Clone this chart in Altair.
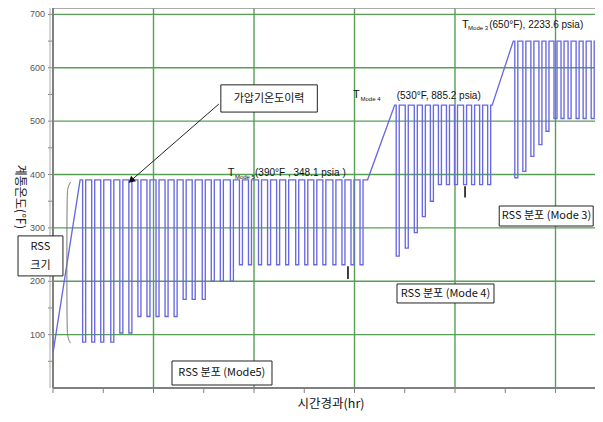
import altair as alt
import pandas as pd

# ---------------- data ----------------
# pulse centres (hr) and pulse minima (F) on each plateau
m5_x = [3.1, 4.0, 4.9, 5.9, 6.8, 7.7, 8.6, 9.5, 10.4, 11.3, 12.2, 13.1, 14.0, 15.0, 15.9,
        16.8, 17.8, 18.7, 19.6, 20.6, 21.5, 22.4, 23.3, 24.3, 25.2, 26.1, 27.0, 28.0, 28.9,
        29.8, 30.7]
m5_min = [86, 86, 86, 86, 103, 103, 134, 134, 134, 134, 134, 166, 166, 166, 200, 200, 200,
          231, 231, 231, 231, 231, 231, 231, 231, 231, 231, 231, 231, 231, 231]
m4_x = [34.3, 35.2, 36.1, 36.9, 37.7, 38.5, 39.3, 40.1, 41.0, 41.8, 42.6, 43.4]
m4_min = [247, 262, 291, 321, 350, 381, 381, 381, 381, 381, 381, 381]
m3_x = [46.1, 46.9, 47.7, 48.5, 49.2, 50.0, 50.7, 51.4, 52.2, 52.9, 53.7]
m3_min = [394, 406, 434, 456, 481, 505, 505, 505, 505, 505, 505]

plateau = [390, 530, 650]
# corner points of the history (hr, F)
start_pt = (0.0, 66)
m5_span = (2.7, 31.3)
m4_span = (34.0, 43.7)
m3_span = (45.8, 53.93)

grid_x = [10, 20, 30, 40, 50]
grid_y = [100, 200, 300, 400, 500, 600, 700]
y_labels = ["100", "200", "300", "400", "500", "600", "700"]
tick_x = [0, 5, 10, 15, 20, 25, 30, 35, 40, 45, 50]
tick_y = [50, 100, 150, 200, 250, 300, 350, 400, 450, 500, 550, 600, 650, 700]

XMAX = 53.93
YMAX = 712
W, H = 542, 380
HW = 0.15  # half width of a pulse

# ---------------- build the waveform ----------------
pts = [start_pt, (m5_span[0], plateau[0])]
for c, b in zip(m5_x, m5_min):
    pts += [(c - HW, plateau[0]), (c - HW, b), (c + HW, b), (c + HW, plateau[0])]
pts += [(m5_span[1], plateau[0]), (m4_span[0], plateau[1])]
for c, b in zip(m4_x, m4_min):
    pts += [(c - HW, plateau[1]), (c - HW, b), (c + HW, b), (c + HW, plateau[1])]
pts += [(m4_span[1], plateau[1]), (m3_span[0], plateau[2])]
for c, b in zip(m3_x, m3_min):
    pts += [(c - HW, plateau[2]), (c - HW, b), (c + HW, b), (c + HW, plateau[2])]
pts += [(m3_span[1], plateau[2])]
wave = pd.DataFrame({"x": [p[0] for p in pts], "y": [p[1] for p in pts], "i": range(len(pts))})

xs = alt.Scale(domain=[0, XMAX], nice=False, zero=False)
ys = alt.Scale(domain=[0, YMAX], nice=False, zero=False)

KR = "Noto Sans CJK KR"
GREEN = "#56a056"
BLUE = "#6868e0"
AXC = "#808080"


def X(field="x"):
    return alt.X(f"{field}:Q", scale=xs, axis=None)


def Y(field="y"):
    return alt.Y(f"{field}:Q", scale=ys, axis=None)


# ---- axes built from scale-positioned marks ----
gx = alt.Chart(pd.DataFrame({"x": grid_x})).mark_rule(color=GREEN, strokeWidth=1.4).encode(x=X())
gy = alt.Chart(pd.DataFrame({"y": grid_y})).mark_rule(color=GREEN, strokeWidth=1.4).encode(y=Y())
topline = alt.Chart(pd.DataFrame({"y": [YMAX]})).mark_rule(color="#999", strokeWidth=1.5).encode(y=Y())

ytick = alt.Chart(pd.DataFrame({"y": tick_y})).mark_rule(color=AXC, strokeWidth=1).encode(
    y=Y(), x=alt.value(-5), x2=alt.value(0))
ylab = alt.Chart(pd.DataFrame({"y": grid_y, "t": y_labels})).mark_text(
    align="right", baseline="middle", fontSize=9, color="#555", font="Liberation Sans").encode(
    y=Y(), x=alt.value(-8), text="t:N")
ydom = alt.Chart(pd.DataFrame({"v": [0]})).mark_rule(color=AXC, strokeWidth=2).encode(
    x=alt.value(0), y=alt.value(0), y2=alt.value(H))
ydom2 = alt.Chart(pd.DataFrame({"v": [0]})).mark_rule(color="#aaa", strokeWidth=1).encode(
    x=alt.value(-3), y=alt.value(0), y2=alt.value(H))

xtick = alt.Chart(pd.DataFrame({"x": tick_x})).mark_rule(color=AXC, strokeWidth=1).encode(
    x=X(), y=alt.value(H), y2=alt.value(H + 5))
xdom = alt.Chart(pd.DataFrame({"v": [0]})).mark_rule(color=AXC, strokeWidth=2).encode(
    y=alt.value(H), x=alt.value(0), x2=alt.value(W))
xtitle = alt.Chart(pd.DataFrame({"t": ["시간경과(hr)"]})).mark_text(
    font=KR, fontSize=12.5, color="#111", baseline="middle").encode(
    x=alt.value(278), y=alt.value(H + 16), text="t:N")

ytitle = alt.Chart(pd.DataFrame({"x": [-3.3], "y": [358], "t": ["계통온도(℉)"]})).mark_text(
    font=KR, fontSize=12, angle=90, color="#222").encode(x=X(), y=Y(), text="t:N")

line = alt.Chart(wave).mark_line(color=BLUE, strokeWidth=1.35).encode(x=X(), y=Y(), order="i:Q")

brace = alt.Chart(pd.DataFrame({
    "x": [1.75, 1.45, 1.38, 1.38, 1.45, 1.75],
    "y": [386, 376, 355, 115, 94, 84],
    "i": [0, 1, 2, 3, 4, 5]})).mark_line(color="#777", strokeWidth=1, interpolate="basis").encode(
    x=X(), y=Y(), order="i:Q")

markers = alt.Chart(pd.DataFrame({"x": [29.35, 41.0], "y": [204, 357], "y2": [228, 378]})).mark_rule(
    color="black", strokeWidth=1.5).encode(x=X(), y=Y(), y2="y2")

arrow = alt.Chart(pd.DataFrame({"x": [16.5], "y": [532], "x2": [7.9], "y2": [391]})).mark_rule(
    color="#222", strokeWidth=1).encode(x=X(), y=Y(), x2="x2", y2="y2")
head = alt.Chart(pd.DataFrame({"x": [7.85], "y": [390]})).mark_point(
    shape="triangle", filled=True, color="#111", size=55, angle=229, opacity=1).encode(x=X(), y=Y())

boxes = alt.Chart(pd.DataFrame({
    "x": [16.7, -3.48, 11.84, 34.23, 44.4],
    "x2": [26.3, 0.99, 21.79, 43.88, 53.75],
    "y": [568, 285, 50.6, 194.9, 341],
    "y2": [517, 210, 5.6, 159.3, 303.5]})).mark_rect(fill="white", stroke="#222", strokeWidth=1).encode(
    x=X(), x2="x2", y=Y(), y2="y2")

box_txt = alt.Chart(pd.DataFrame({
    "x": [21.5, -1.25, -1.25, 16.8, 39.05, 49.1],
    "y": [542, 264, 228.6, 28.1, 177, 322],
    "t": ["가압기온도이력", "RSS", "크기", "RSS 분포 (Mode5)", "RSS 분포 (Mode 4)", "RSS 분포 (Mode 3)"]})).mark_text(
    font=KR, fontSize=11, color="#111").encode(x=X(), y=Y(), text="t:N")

t_big = alt.Chart(pd.DataFrame({
    "x": [17.4, 29.85, 40.7],
    "y": [402, 549, 680],
    "t": ["T", "T", "T"]})).mark_text(font="Liberation Sans", fontSize=11, align="left", color="#111").encode(
    x=X(), y=Y(), text="t:N")
t_sub = alt.Chart(pd.DataFrame({
    "x": [18.1, 30.6, 41.3],
    "y": [396, 542, 674],
    "t": ["Mode 5", "Mode 4", "Mode 3"]})).mark_text(font="Liberation Sans", fontSize=6, align="left", color="#111").encode(
    x=X(), y=Y(), text="t:N")
t_main = alt.Chart(pd.DataFrame({
    "x": [20.1, 34.2, 43.4],
    "y": [402, 547, 680],
    "t": ["(390°F , 348.1 psia )", "(530°F, 885.2 psia)", "(650°F), 2233.6 psia)"]})).mark_text(
    font="Liberation Sans", fontSize=10, align="left", color="#111").encode(x=X(), y=Y(), text="t:N")

chart = alt.layer(
    gx, gy, topline, ytick, ylab, ydom2, ydom, xtick, xdom, xtitle, ytitle,
    line, brace, markers, arrow, head, boxes, box_txt, t_big, t_sub, t_main
).properties(
    width=W, height=H,
    padding={"left": 45, "top": 0, "right": 0, "bottom": 26},
    autosize=alt.AutoSizeParams(type="none"),
).configure_view(strokeWidth=0).configure(background="white")

chart.save("out.html", embed_options={"renderer": "svg", "actions": False})
